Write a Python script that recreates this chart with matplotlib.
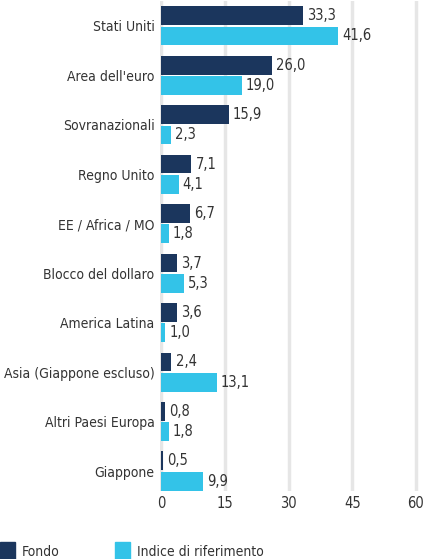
import matplotlib
matplotlib.use("Agg")
import matplotlib.pyplot as plt
from matplotlib.patches import Rectangle

plt.rcParams['font.family'] = ['DejaVu Sans']
plt.rcParams['font.stretch'] = 'condensed'

categories = ["Stati Uniti", "Area dell'euro", "Sovranazionali", "Regno Unito",
              "EE / Africa / MO", "Blocco del dollaro", "America Latina",
              "Asia (Giappone escluso)", "Altri Paesi Europa", "Giappone"]
fondo = [33.3, 26.0, 15.9, 7.1, 6.7, 3.7, 3.6, 2.4, 0.8, 0.5]
indice = [41.6, 19.0, 2.3, 4.1, 1.8, 5.3, 1.0, 13.1, 1.8, 9.9]
ticks = [0, 15, 30, 45, 60]
series_names = ["Fondo", "Indice di riferimento"]

dark = "#1b365d"
light = "#33c3e8"
text_col = "#333333"
fs = 10

fig = plt.figure(figsize=(4.30, 5.59), dpi=100)
ax = fig.add_axes([0.372, 0.122, 0.605, 0.876])

pos = list(range(len(categories)))
h = 0.38
off = 0.205
ax.barh([p - off for p in pos], fondo, height=h, color=dark, zorder=3)
ax.barh([p + off for p in pos], indice, height=h, color=light, zorder=3)

for p, v in zip(pos, fondo):
    ax.annotate(f"{v:.1f}".replace(".", ","), (v, p - off), xytext=(3, 0),
                textcoords="offset points", va="center", ha="left",
                fontsize=10.5, color=text_col)
for p, v in zip(pos, indice):
    ax.annotate(f"{v:.1f}".replace(".", ","), (v, p + off), xytext=(3, 0),
                textcoords="offset points", va="center", ha="left",
                fontsize=10.5, color=text_col)

ax.set_ylim(len(categories) - 0.6, -0.5)
ax.set_xlim(-0.3, 61)
ax.set_xticks(ticks)
ax.set_xticklabels([str(t) for t in ticks], fontsize=10.5, color=text_col)
ax.set_yticks(pos)
ax.set_yticklabels(categories, fontsize=fs, color=text_col)
ax.tick_params(length=0, pad=4)
ax.grid(axis="x", color="#e6e6e6", linewidth=2.5, zorder=0)
for s in ax.spines.values():
    s.set_visible(False)

# legend
for x0, col, name in [(0.0, dark, series_names[0]), (0.268, light, series_names[1])]:
    fig.patches.append(Rectangle((x0, 0.0), 0.035, 0.03, transform=fig.transFigure,
                                 color=col, figure=fig))
    fig.text(x0 + 0.051, 0.013, name, fontsize=fs, color=text_col, va="center")

fig.savefig("out.png", dpi=100)
